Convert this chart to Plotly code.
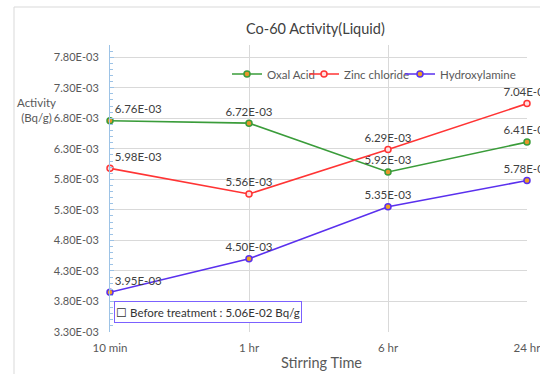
import plotly.graph_objects as go

categories = ["10 min", "1 hr", "6 hr", "24 hr"]
oxal_acid = [6.76e-3, 6.72e-3, 5.92e-3, 6.41e-3]
zinc_chloride = [5.98e-3, 5.56e-3, 6.29e-3, 7.04e-3]
hydroxylamine = [3.95e-3, 4.50e-3, 5.35e-3, 5.78e-3]
y_tickvals = [3.3e-3, 3.8e-3, 4.3e-3, 4.8e-3, 5.3e-3, 5.8e-3, 6.3e-3, 6.8e-3, 7.3e-3, 7.8e-3]
y_ticktext = ["3.30E-03", "3.80E-03", "4.30E-03", "4.80E-03", "5.30E-03",
              "5.80E-03", "6.30E-03", "6.80E-03", "7.30E-03", "7.80E-03"]

FONT = "Lato"
xs = list(range(len(categories)))

def fmt(v):
    m, e = f"{v:.2E}".split("E")
    return f"{m}E-{abs(int(e)):02d}"

W, H = 540, 374
L, R, T, B = 110, 13, 45, 42
pw, ph = W - L - R, H - T - B
def px(x): return (x - L) / pw
def py(y): return (H - B - y) / ph

series = [
    ("Oxal Acid", oxal_acid, "#3a9c3a", "#e8962a", "legend", 227),
    ("Zinc chloride", zinc_chloride, "#ff3434", "#ffe0e0", "legend2", 304),
    ("Hydroxylamine", hydroxylamine, "#5a30ee", "#f0a020", "legend3", 400),
]

fig = go.Figure()
legends = {}
for name, vals, lc, fc, lg, lx in series:
    fig.add_trace(go.Scatter(
        x=xs, y=vals, name=name, mode="lines+markers+text",
        line=dict(color=lc, width=1.6),
        marker=dict(size=6, color=fc, line=dict(color=lc, width=1.5)),
        text=[fmt(v) for v in vals],
        textposition=["top right", "top center", "top center", "top center"],
        textfont=dict(family=FONT, size=11.5, color="#404040"),
        cliponaxis=False, legend=lg,
    ))
    legends[lg] = dict(orientation="h", x=px(lx), y=py(74), yanchor="middle", xanchor="left",
                       font=dict(family=FONT, size=11.5, color="#595959"),
                       bgcolor="rgba(0,0,0,0)", itemwidth=30)

fig.update_layout(
    width=W, height=H,
    margin=dict(l=L, r=R, t=T, b=B),
    paper_bgcolor="white", plot_bgcolor="white",
    font=dict(family=FONT, color="#595959"),
    showlegend=True,
    **legends,
    xaxis=dict(
        range=[0, 3], tickmode="array", tickvals=xs, ticktext=categories,
        showgrid=True, gridcolor="#d9d9d9", gridwidth=1,
        zeroline=False, showline=False, ticks="",
        ticklabelstandoff=7, ticklabeloverflow="allow", automargin=False,
        tickfont=dict(size=11.5, color="#595959"),
    ),
    yaxis=dict(
        range=[3.3e-3, 8.0e-3], tickmode="array", tickvals=y_tickvals, ticktext=y_ticktext,
        showgrid=True, gridcolor="#d9d9d9", gridwidth=1, zeroline=False,
        showline=True, linecolor="#9dc3e6", linewidth=1,
        ticks="inside", ticklen=4, tickcolor="#9dc3e6",
        ticklabelstandoff=8, automargin=False,
        minor=dict(dtick=1e-4, tick0=3.3e-3, ticks="inside", ticklen=3, tickcolor="#9dc3e6", showgrid=False),
        tickfont=dict(size=11, color="#595959"),
    ),
)

fig.add_annotation(text="Co-60 Activity(Liquid)", xref="paper", yref="paper",
                   x=px(315), y=py(28), showarrow=False,
                   font=dict(size=14.5, color="#404040"), xanchor="center", yanchor="middle")
fig.add_annotation(text="Stirring Time", xref="paper", yref="paper",
                   x=px(321), y=py(362), showarrow=False,
                   font=dict(size=14.5, color="#595959"), xanchor="center", yanchor="middle")
fig.add_annotation(text="Activity<br>(Bq/g)", xref="paper", yref="paper",
                   x=px(36), y=py(110), showarrow=False,
                   font=dict(size=11.5, color="#595959"), xanchor="center", yanchor="middle")
fig.add_annotation(text="☐ Before treatment : 5.06E-02 Bq/g", xref="paper", yref="paper",
                   x=px(114), y=py(312), showarrow=False, xanchor="left", yanchor="middle",
                   width=184, height=18, align="center",
                   bordercolor="#7b61ff", borderwidth=1, borderpad=1, bgcolor="white",
                   font=dict(size=11.5, color="#333333"))
fig.add_shape(type="rect", xref="paper", yref="paper",
              x0=px(14), x1=px(560), y0=py(400), y1=py(7),
              line=dict(color="#d9d9d9", width=1), layer="below")

fig.write_html("out.html")
